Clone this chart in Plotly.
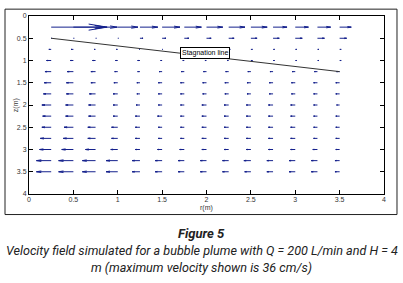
import plotly.graph_objects as go

# grid positions (m)
r_vals = [0.25, 0.5, 0.75, 1.0, 1.25, 1.5, 1.75, 2.0, 2.25, 2.5, 2.75, 3.0, 3.25, 3.5]
z_vals = [0.25, 0.5, 0.75, 1.0, 1.25, 1.5, 1.75, 2.0, 2.25, 2.5, 2.75, 3.0, 3.25, 3.5]

# radial velocity (cm/s) per row, positive = outward
u_z025 = [36, 20.5, 14, 13, 11.5, 11.5, 11, 10.5, 10.5, 10.5, 9, 8.5, 8.5, 7.5]
u_z050 = [0.5, 0.5, 0.5, 0.5, 2, 2.5, 3, 3, 3.5, 4, 4, 4.5, 4.5, 4.5]
u_z075 = [-1.5, -1.5, -1, -1, -0.5, 0.5, 1, 1, 1, 1, 1, 1, 1, 1]
u_z100 = [-3, -2, -2, -1.5, -1.5, -1, -1, -1, -1, 1, 1, 1, 1, 1]
u_z125 = [-4, -4, -3, -2, -1.5, -2, -2, -2, -2, -2, -2, -2, -2, -2]
u_z150 = [-4.5, -4.5, -3, -2.5, -2, -2.5, -2.5, -2.5, -2.5, -2.5, -2.5, -2.5, -2.5, -2.5]
u_z175 = [-5, -4.5, -4, -3, -2, -2.5, -2.5, -2.5, -2.5, -2.5, -2.5, -2.5, -2.5, -2.5]
u_z200 = [-6, -5, -4.5, -3, -2.5, -2.5, -2.5, -3, -3, -3, -3, -3, -2.5, -2]
u_z225 = [-5.5, -5, -4.5, -3, -3, -3, -2.5, -3, -3, -3, -3, -3, -2.5, -2.5]
u_z250 = [-6, -6, -5, -4, -3, -2.5, -2.5, -3, -3, -3, -3, -3, -2.5, -2.5]
u_z275 = [-7, -6.5, -5, -4, -3, -2.5, -2.5, -3, -3, -3, -3, -3, -2.5, -2.5]
u_z300 = [-7.5, -7.5, -6.5, -4.5, -3, -3, -3, -3, -3, -3, -3, -3, -3, -2.5]
u_z325 = [-9.5, -9.5, -8.5, -7.5, -5, -4.5, -4, -4, -4, -4.5, -4, -4, -4, -3]
u_z350 = [-9.5, -9.5, -8.5, -7.5, -5, -4.5, -4, -4, -4, -4, -4, -4, -4, -3]
u_rows = [u_z025, u_z050, u_z075, u_z100, u_z125, u_z150, u_z175,
          u_z200, u_z225, u_z250, u_z275, u_z300, u_z325, u_z350]

# stagnation line end points
stag_r = [0.25, 3.5]
stag_z = [0.5, 1.25]

x_ticks = [0, 0.5, 1, 1.5, 2, 2.5, 3, 3.5, 4]
x_labels = ["0", "0.5", "1", "1.5", "2", "2.5", "3", "3.5", "4"]
y_ticks = [0, 0.5, 1, 1.5, 2, 2.5, 3, 3.5, 4]
y_labels = ["0", "0.5", "1", "1.5", "2", "2.5", "3", "3.5", "4"]

scale = 0.0175  # m of arrow per cm/s
alpha, beta = 0.33, 0.33

xs, ys = [], []
for z, row in zip(z_vals, u_rows):
    for r, u in zip(r_vals, row):
        L = u * scale
        tip = r + L
        xs += [r, tip, None]
        ys += [z, z, None]
        hx = tip - alpha * L
        hy = alpha * beta * L
        xs += [hx, tip, hx, None]
        ys += [z + hy, z, z - hy, None]

fig = go.Figure()
fig.add_trace(go.Scatter(x=xs, y=ys, mode="lines",
                         line=dict(color="#14208c", width=1),
                         hoverinfo="skip", showlegend=False))
fig.add_trace(go.Scatter(x=stag_r, y=stag_z, mode="lines",
                         line=dict(color="#333333", width=1),
                         hoverinfo="skip", showlegend=False))

axis_common = dict(showline=True, linecolor="black", linewidth=1, mirror="ticks",
                   ticks="inside", ticklen=4, tickcolor="black", showgrid=False,
                   zeroline=False, tickfont=dict(size=7, color="#333333",
                                                 family="Liberation Sans, Arial, sans-serif"))

fig.update_layout(
    width=403, height=283,
    margin=dict(l=29, r=19, t=12, b=89),
    paper_bgcolor="white", plot_bgcolor="white",
    xaxis=dict(range=[0, 4], tickvals=x_ticks, ticktext=x_labels,
               ticklabelstandoff=-1, **axis_common),
    yaxis=dict(range=[4, 0], tickvals=y_ticks, ticktext=y_labels, **axis_common),
    showlegend=False,
)

fig.add_shape(type="rect", xref="paper", yref="paper",
              x0=-0.0676, x1=1.0366, y0=-0.1154, y1=1.0385,
              line=dict(color="#222222", width=1), layer="below")

fig.add_annotation(x=1.98, y=0.84, xref="x", yref="y", text="Stagnation line",
                   showarrow=False, font=dict(size=7, color="black",
                                              family="Liberation Sans, Arial, sans-serif"),
                   bgcolor="white", bordercolor="black", borderwidth=1, borderpad=1)

fig.add_annotation(x=0.5, y=-0.0797, xref="paper", yref="paper", text="r(m)",
                   showarrow=False, yanchor="middle",
                   font=dict(size=7, color="#333333",
                             family="Liberation Sans, Arial, sans-serif"))
fig.add_annotation(x=-0.053, y=0.5, xref="paper", yref="paper", text="z(m)",
                   showarrow=False, textangle=-90,
                   font=dict(size=7, color="#333333",
                             family="Liberation Sans, Arial, sans-serif"))

cap_font = "Roboto, Arial, sans-serif"
cap_x = (201.5 - 29) / 355.0
fig.add_annotation(x=cap_x, y=234, xref="paper", yref="paper", text="<b><i>Figure 5</i></b>",
                   showarrow=False, font=dict(size=13, color="#222222", family=cap_font))
fig.add_annotation(x=cap_x, y=252, xref="paper", yref="paper",
                   text="<i>Velocity field simulated for a bubble plume with Q = 200 L/min and H = 4</i>",
                   showarrow=False, font=dict(size=12.6, color="#222222", family=cap_font))
fig.add_annotation(x=cap_x, y=269, xref="paper", yref="paper",
                   text="<i>m (maximum velocity shown is 36 cm/s)</i>",
                   showarrow=False, font=dict(size=12.6, color="#222222", family=cap_font))

# convert caption pixel rows to paper coordinates
for a in fig.layout.annotations[-3:]:
    a.y = (194 - a.y) / 182.0
    a.yanchor = "middle"

fig.write_html("out.html", config={"displayModeBar": False},
               post_script="document.body.style.margin='0';")
